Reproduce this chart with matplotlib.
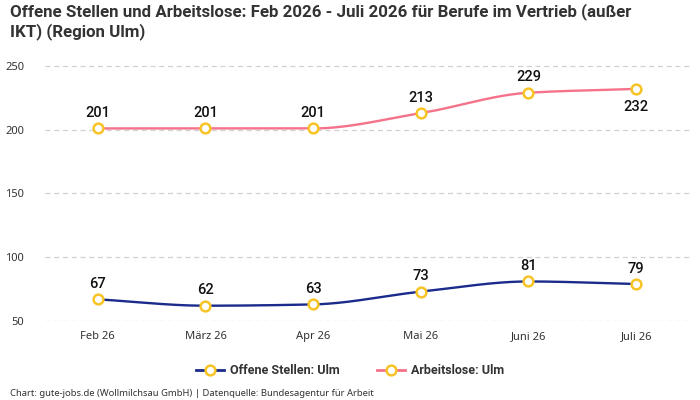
import numpy as np
import matplotlib
matplotlib.use("Agg")
import matplotlib.pyplot as plt
from matplotlib.lines import Line2D

months = ["Feb 26", "März 26", "Apr 26", "Mai 26", "Juni 26", "Juli 26"]
offene_stellen = [67, 62, 63, 73, 81, 79]
arbeitslose = [201, 201, 201, 213, 229, 232]
yticks = [50, 100, 150, 200, 250]

BLUE = "#1a2b8c"
PINK = "#f4728a"
YELLOW = "#f7c325"
TXT = "#333333"

plt.rcParams['font.family'] = ['Noto Sans', 'DejaVu Sans']


def pchip(x, y, n=200):
    x = np.asarray(x, float); y = np.asarray(y, float)
    h = np.diff(x); d = np.diff(y) / h
    m = np.zeros_like(y)
    for k in range(1, len(y) - 1):
        if d[k - 1] * d[k] > 0:
            w1 = 2 * h[k] + h[k - 1]; w2 = h[k] + 2 * h[k - 1]
            m[k] = (w1 + w2) / (w1 / d[k - 1] + w2 / d[k])
    m[0] = d[0]; m[-1] = d[-1]
    xs, ys = [], []
    for k in range(len(x) - 1):
        t = np.linspace(0, 1, n)
        h00 = 2 * t**3 - 3 * t**2 + 1; h10 = t**3 - 2 * t**2 + t
        h01 = -2 * t**3 + 3 * t**2; h11 = t**3 - t**2
        xs.append(x[k] + t * h[k])
        ys.append(h00 * y[k] + h10 * h[k] * m[k] + h01 * y[k + 1] + h11 * h[k] * m[k + 1])
    return np.concatenate(xs), np.concatenate(ys)


fig = plt.figure(figsize=(7, 4), dpi=100)
ax = fig.add_axes([45 / 700, 0.1975, 645 / 700, 0.644])
x = np.arange(len(months))

for vals, col in [(offene_stellen, BLUE), (arbeitslose, PINK)]:
    sx, sy = pchip(x, vals)
    ax.plot(sx, sy, color=col, lw=1.7, zorder=3)
    ax.plot(x, vals, 'o', ms=7, mfc='white', mec=YELLOW, mew=1.8, zorder=4)

LBL = dict(fontsize=10.5, fontweight='medium', color='#111111', ha='center',
           family=['Roboto', 'DejaVu Sans'])
for i, v in enumerate(offene_stellen):
    ax.annotate(str(v), (i, v), xytext=(0, 6), textcoords='offset points', va='bottom', **LBL)
for i, v in enumerate(arbeitslose):
    if i == len(arbeitslose) - 1:
        ax.annotate(str(v), (i, v), xytext=(0, -8), textcoords='offset points', va='top', **LBL)
    else:
        ax.annotate(str(v), (i, v), xytext=(0, 6), textcoords='offset points', va='bottom', **LBL)

ax.set_xlim(-0.49, 5.5)
ax.set_ylim(50, 252)
ax.set_yticks(yticks)
ax.set_xticks(x)
ax.set_xticklabels(months)
ax.tick_params(axis='both', length=0, labelsize=8, colors=TXT)
ax.tick_params(axis='y', pad=15)
ax.tick_params(axis='x', pad=7)
ax.grid(axis='y', color='#d0d0d0', ls=(0, (4, 3)), lw=0.9)
ax.set_axisbelow(True)
for s in ax.spines.values():
    s.set_visible(False)

handles = [Line2D([0], [0], color=BLUE, lw=2, marker='o', ms=7, mfc='white', mec=YELLOW, mew=1.8),
           Line2D([0], [0], color=PINK, lw=2, marker='o', ms=7, mfc='white', mec=YELLOW, mew=1.8)]
leg = fig.legend(handles, ["Offene Stellen: Ulm", "Arbeitslose: Ulm"], loc='center',
                 bbox_to_anchor=(350 / 700, 1 - 371 / 400), ncol=2, frameon=False,
                 prop={'weight': 'bold', 'size': 9, 'family': ['Roboto', 'DejaVu Sans']},
                 handlelength=2.2, columnspacing=3.0, handletextpad=0.5)
for t in leg.get_texts():
    t.set_color(TXT)

fig.text(10 / 700, 1 - 3 / 400, "Offene Stellen und Arbeitslose: Feb 2026 - Juli 2026 für Berufe im Vertrieb (außer\nIKT) (Region Ulm)",
         ha='left', va='top', fontsize=12.2, fontweight='bold', color=TXT,
         family=['Roboto', 'DejaVu Sans'], linespacing=1.25)
fig.text(10 / 700, 1 - 393 / 400, "Chart: gute-jobs.de (Wollmilchsau GmbH) | Datenquelle: Bundesagentur für Arbeit",
         ha='left', va='center', fontsize=6.8, color=TXT)

fig.savefig("out.png", dpi=100)
